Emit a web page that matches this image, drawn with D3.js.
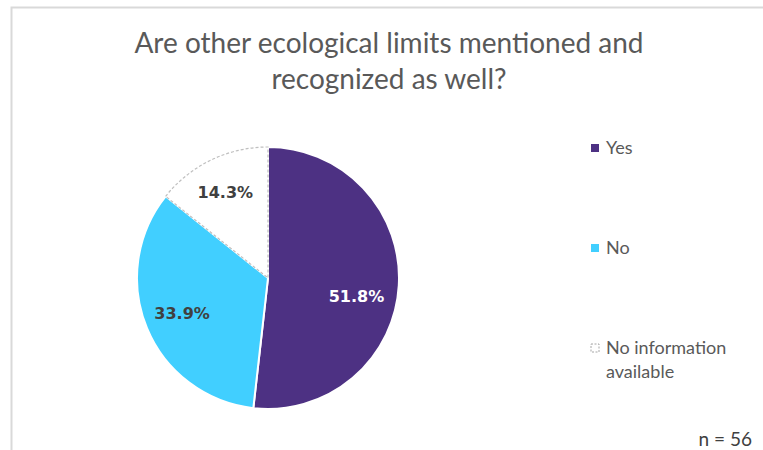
<!DOCTYPE html>
<html><head><meta charset="utf-8">
<script src="https://cdn.jsdelivr.net/npm/d3@7"></script>
<style>body{margin:0;background:#fff;} svg{display:block;}</style>
</head><body>
<svg id="c" width="763" height="450"></svg>
<script>
const categories = ["Yes", "No", "No information available"];
const counts = [29, 19, 8];
const percentLabels = ["51.8%", "33.9%", "14.3%"];
const titleLines = ["Are other ecological limits mentioned and", "recognized as well?"];
const noteText = "n = 56";

const colors = ["#4d3183", "#41cfff", "#ffffff"];
const labelColors = ["#ffffff", "#404040", "#404040"];

const svg = d3.select("#c");
// border
svg.append("path").attr("d", "M11.5,450 L11.5,7.5 L763,7.5").attr("fill","none").attr("stroke","#d9d9d9").attr("stroke-width",2);

svg.selectAll("text.title").data(titleLines).enter().append("text")
  .attr("class","title").attr("x", 389).attr("y", (d,i)=>53 + i*36)
  .attr("text-anchor","middle").attr("font-family","Lato, 'Open Sans', sans-serif")
  .attr("font-size", 28).attr("fill","#595959").text(d=>d);

const cx = 268, cy = 278, r = 131;
const pie = d3.pie().sort(null).value(d=>d)(counts);
const arc = d3.arc().innerRadius(0).outerRadius(r);
const g = svg.append("g").attr("transform", `translate(${cx},${cy})`);
g.selectAll("path").data(pie).enter().append("path")
  .attr("d", arc)
  .attr("fill", (d,i)=>colors[i])
  .attr("stroke", (d,i)=> i===2 ? "#bfbfbf" : "#ffffff")
  .attr("stroke-width", (d,i)=> i===2 ? 1.2 : 2)
  .attr("stroke-dasharray", (d,i)=> i===2 ? "3,2" : null);

const labelR = [0.69, 0.71, 0.73];
const labelShiftDeg = [8.6, 0, -0.8];
g.selectAll("text").data(pie).enter().append("text")
  .attr("transform", (d,i)=>{
    const a = (d.startAngle + d.endAngle)/2 + labelShiftDeg[i]*Math.PI/180;
    const p = d3.pointRadial(a, r*labelR[i]);
    return `translate(${p[0]},${p[1]})`;
  })
  .attr("text-anchor","middle").attr("dy","0.36em")
  .attr("font-family","'DejaVu Sans', Verdana, sans-serif").attr("font-weight","bold")
  .attr("font-size", 16).attr("fill",(d,i)=>labelColors[i])
  .text((d,i)=>percentLabels[i]);

// legend
const legY = [148, 248, 348];
const leg = svg.selectAll("g.leg").data(categories).enter().append("g").attr("class","leg")
  .attr("transform",(d,i)=>`translate(591,${legY[i]})`);
leg.append("rect").attr("x",0).attr("y",-4).attr("width",8).attr("height",8)
  .attr("fill",(d,i)=>colors[i])
  .attr("stroke",(d,i)=> i===2 ? "#a6a6a6" : "none")
  .attr("stroke-dasharray",(d,i)=> i===2 ? "2,1.5" : null);
leg.each(function(d,i){
  const t = d3.select(this).append("text").attr("x",15).attr("y",0).attr("dy","0.35em")
    .attr("font-family","Lato, 'Open Sans', sans-serif").attr("font-size",18).attr("fill","#595959");
  if (i===2) {
    t.append("tspan").attr("x",15).text("No information");
    t.append("tspan").attr("x",15).attr("dy","24").text("available");
  } else t.text(d);
});

svg.append("text").attr("x",752).attr("y",446).attr("text-anchor","end")
  .attr("font-family","Lato, 'Open Sans', sans-serif").attr("font-size",19).attr("fill","#404040").text(noteText);
</script>
</body></html>
